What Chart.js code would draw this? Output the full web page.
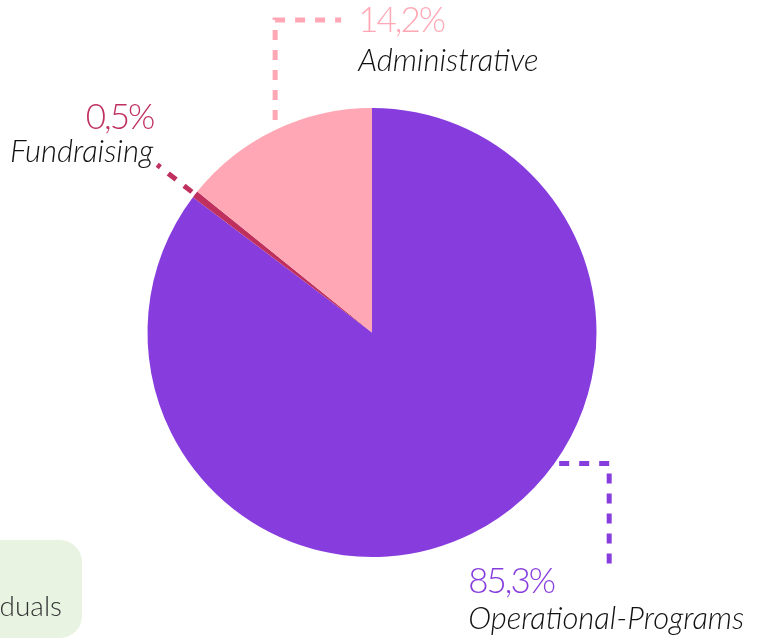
<!DOCTYPE html>
<html>
<head>
<meta charset="utf-8">
<script src="https://cdn.jsdelivr.net/npm/chart.js@4/dist/chart.umd.min.js"></script>
<style>
  html, body { margin: 0; padding: 0; background: #fff; overflow: hidden; }
  #wrap { position: relative; width: 767px; height: 638px; }
  #tag {
    position: absolute; left: -30px; top: 540px; width: 112px; height: 98px;
    background: #e8f3e2; border-radius: 22px;
    font: 300 28px Lato, sans-serif; color: #333;
    box-sizing: border-box; padding-right: 20px; text-align: right; line-height: 130px;
    white-space: nowrap; overflow: hidden; direction: rtl;
  }
</style>
</head>
<body>
<div id="wrap">
  <canvas id="pie" width="767" height="638"></canvas>
  <div id="tag">Individuals</div>
</div>
<script>
// chart data
const categories = ['Operational-Programs', 'Fundraising', 'Administrative'];
const shares = [85.3, 0.5, 14.2];
const shareLabels = ['85,3%', '0,5%', '14,2%'];
const colours = ['#873cdd', '#c0305e', '#ffa7b4'];

// leader lines + labels for each slice
const labelPlugin = {
    id: 'leaderLabels',
    afterDatasetsDraw(chart) {
        const ctx = chart.ctx;
        const arcs = chart.getDatasetMeta(0).data;
        const { x: cx, y: cy, outerRadius: r } = arcs[0];

        const mid = (a) => (a.startAngle + a.endAngle) / 2;
        const at = (ang, rad) => [cx + Math.cos(ang) * rad, cy + Math.sin(ang) * rad];

        ctx.save();
        ctx.lineWidth = 5;
        ctx.setLineDash([10, 10]);

        const drawLine = (pts, colour) => {
            ctx.strokeStyle = colour;
            ctx.beginPath();
            ctx.moveTo(pts[0][0], pts[0][1]);
            pts.slice(1).forEach((p) => ctx.lineTo(p[0], p[1]));
            ctx.stroke();
        };

        const drawText = (pct, name, x, yPct, yName, align, colour) => {
            ctx.setLineDash([]);
            ctx.textAlign = align;
            ctx.textBaseline = 'alphabetic';
            ctx.fillStyle = colour;
            ctx.font = '300 35px Lato, sans-serif';
            ctx.letterSpacing = '-2px';
            ctx.fillText(pct, x, yPct);
            ctx.letterSpacing = '0px';
            ctx.fillStyle = '#111';
            ctx.font = 'italic 300 31px Lato, sans-serif';
            ctx.fillText(name, x, yName);
            ctx.setLineDash([10, 10]);
        };

        // Operational-Programs (bottom right)
        const op = at(Math.PI * 35 / 180, r + 4);
        drawLine([op, [op[0] + 50, op[1]], [op[0] + 50, op[1] + 101]], colours[0]);
        drawText(shareLabels[0], categories[0], op[0] - 91, op[1] + 129, op[1] + 165, 'left', colours[0]);

        // Fundraising (upper left)
        const fa = mid(arcs[1]);
        const f1 = at(fa, r + 4);
        const f2 = at(fa, r + 48);
        drawLine([f1, f2], colours[1]);
        drawText(shareLabels[1], categories[1], f2[0] - 4, f2[1] - 36, f2[1] - 3, 'right', colours[1]);

        // Administrative (top)
        const aa = mid(arcs[2]);
        const a1 = [at(aa, r)[0], at(aa, r + 11)[1]];
        const a2 = [a1[0], 20];
        drawLine([a1, a2, [a1[0] + 66, 20]], colours[2]);
        drawText(shareLabels[2], categories[2], a1[0] + 83, 32, 71, 'left', colours[2]);

        ctx.restore();
    },
};

new Chart(document.getElementById('pie'), {
    type: 'pie',
    data: {
        labels: categories,
        datasets: [{
            data: shares,
            backgroundColor: colours,
            borderWidth: 0,
        }],
    },
    options: {
        responsive: false,
        animation: false,
        layout: { padding: { top: 108, bottom: 81, left: 147, right: 170 } },
        plugins: {
            legend: { display: false },
            tooltip: { enabled: false },
        },
    },
    plugins: [labelPlugin],
});
</script>
</body>
</html>
